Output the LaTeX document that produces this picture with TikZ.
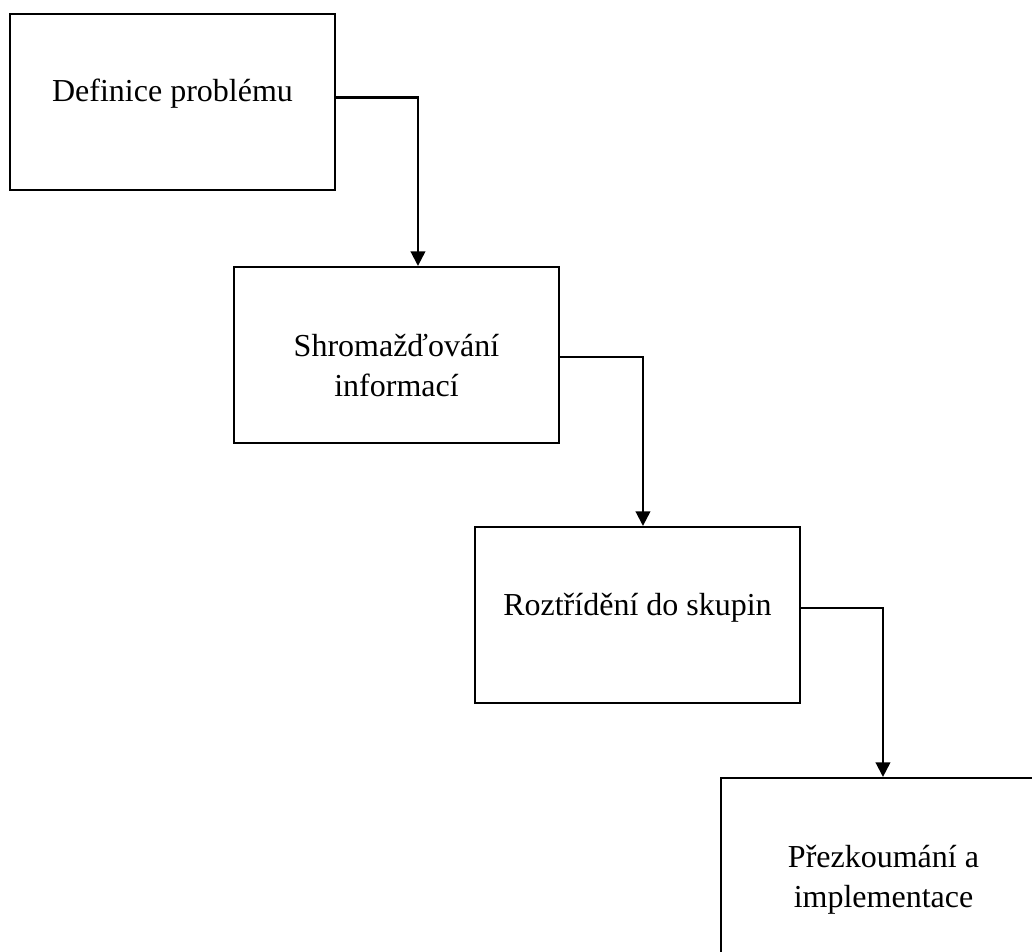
\documentclass[tikz,border=0pt]{standalone}
\usepackage{fontspec}
\setmainfont{Liberation Serif}
\usetikzlibrary{arrows.meta}
\begin{document}
\begin{tikzpicture}[x=0.75pt,y=-0.75pt,
  stepbox/.style={draw=black, line width=1.6pt, rectangle, inner sep=0pt,
    minimum width=243.75pt, minimum height=132pt, fill=white},
  label/.style={font=\fontsize{24}{30}\selectfont, align=center, inner sep=0pt, anchor=base},
  flow/.style={draw=black, line width=1.6pt, -{Triangle[width=11pt,length=11pt]}}]
  % page area
  \useasboundingbox[fill=white] (0,0) rectangle (1032,952);

  % process boxes
  \node[stepbox] (b1) at (172.5,102) {};
  \node[stepbox] (b2) at (396.5,355) {};
  \node[stepbox] (b3) at (637.5,615) {};
  \node[stepbox] (b4) at (883.5,866) {};

  % box captions (base anchor sits on the last line)
  \node[label] (t1) at (172.5,102) {Definice problému};
  \node[label] (t2) at (396.5,397) {Shromažďování\\informací};
  \node[label] (t3) at (637.5,615) {Roztřídění do skupin};
  \node[label] (t4) at (883.5,907) {Přezkoumání a\\implementace};

  % elbow connectors
  \draw[flow] ([yshift=3.4pt]b1.east) -| ([xshift=16.1pt]b2.north);
  \draw[flow] ([yshift=-1.5pt]b2.east) -| ([xshift=4.1pt]b3.north);
  \draw[flow] ([yshift=5.2pt]b3.east) -| ([xshift=-0.4pt]b4.north);
\end{tikzpicture}
\end{document}
